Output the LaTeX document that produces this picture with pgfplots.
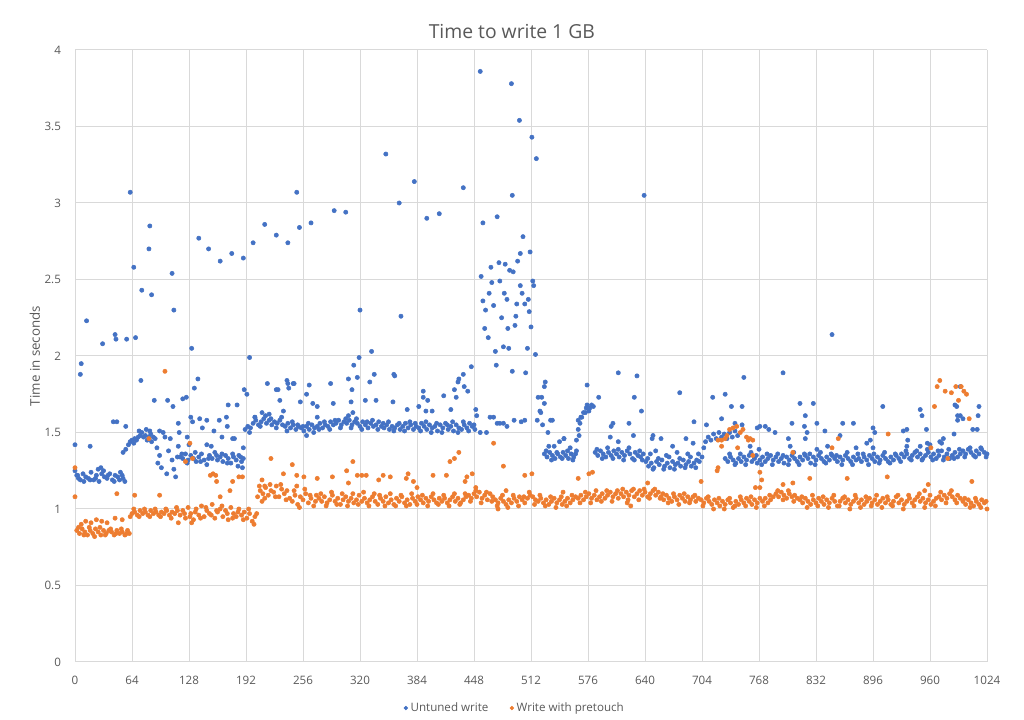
\documentclass[border=0pt]{standalone}
\usepackage{fontspec}
\setmainfont{Open Sans}
\usepackage{pgfplots}
\pgfplotsset{compat=1.18}
\definecolor{serA}{HTML}{4472C4}
\definecolor{serB}{HTML}{ED7D31}
\definecolor{gridc}{HTML}{D9D9D9}
\definecolor{txt}{HTML}{595959}
\begin{document}
\begin{tikzpicture}
\begin{axis}[
  at={(0pt,0pt)}, anchor=south west,
  scale only axis, width=684pt, height=459pt,
  xmin=0, xmax=1024, ymin=0, ymax=4,
  xtick={0,64,...,1024}, ytick={0,0.5,...,4},
  grid=major, major grid style={draw=gridc, line width=0.75pt},
  axis line style={draw=none}, tick style={draw=none},
  /pgf/number format/assume math mode=true,
  /pgf/number format/1000 sep={},
  ticklabel style={font=\fontsize{8.7}{10}\selectfont, text=txt},
  xticklabel style={anchor=center, yshift=-13.5pt},
  yticklabel style={anchor=east, xshift=-7pt},
  title={Time to write 1 GB},
  title style={at={(0.479,1)}, anchor=center, yshift=7.5pt, font=\fontsize{14.5}{17}\selectfont, text=txt},
  ylabel={Time in seconds},
  ylabel style={at={(axis description cs:-0.044,0.5)}, anchor=center, font=\fontsize{10}{12}\selectfont, text=txt},
  legend style={at={(0.4825,-0.0752)}, anchor=center, draw=none, fill=none, legend columns=2,
    font=\fontsize{8.7}{10}\selectfont, text=txt, /tikz/every even column/.append style={column sep=14pt}},
  legend cell align=left,
]
\addplot[only marks, mark=*, mark size=1.6pt, color=serA,
  legend image code/.code={\fill[serA] (0.08cm,0cm) circle (1.4pt);}]
coordinates {
(0,1.25)(2,1.22)(3,1.22)(6,1.19)(9,1.23)(12,1.21)(15,1.20)(18,1.24)(21,1.19)(24,1.22)(27,1.18)(30,1.23)(33,1.21)(36,1.20)(39,1.23)(42,1.19)(45,1.22)(48,1.21)(51,1.24)(54,1.20)
(4,1.20)(10,1.18)(17,1.19)(23,1.20)(26,1.26)(29,1.27)(32,1.25)(37,1.22)(44,1.18)(50,1.19)(53,1.22)(56,1.18)
(54,1.37)(57,1.39)(60,1.42)(62,1.44)(64,1.45)(66,1.43)(67,1.46)(69,1.45)(71,1.47)(72,1.51)(73,1.48)(75,1.50)(77,1.47)(79,1.48)(80,1.52)(81,1.45)(83,1.47)(84,1.51)(85,1.49)(86,1.44)(88,1.47)(90,1.46)
(92,1.40)(93,1.30)(95,1.35)(95,1.51)(97,1.27)(99,1.50)(101,1.47)(103,1.23)(105,1.38)(107,1.46)(109,1.32)(111,1.26)(113,1.21)(115,1.34)(116,1.41)(117,1.50)(116,1.56)
(118,1.34)(121,1.33)(124,1.36)(127,1.32)(130,1.35)(133,1.33)(136,1.31)(139,1.34)(142,1.36)(145,1.32)(148,1.29)(151,1.35)(154,1.33)(157,1.37)(160,1.32)(163,1.34)(166,1.31)(169,1.35)(172,1.33)(175,1.30)(178,1.34)(181,1.32)(184,1.35)(187,1.31)(189,1.33)
(120,1.36)(126,1.30)(135,1.37)(141,1.31)(150,1.33)(159,1.35)(165,1.36)(171,1.30)(177,1.36)(183,1.28)(186,1.34)(188,1.27)
(47,1.57)(43,1.57)(57,1.54)(0,1.42)(17,1.41)(74,1.84)(89,1.71)(104,1.71)(110,1.67)(121,1.72)(125,1.73)(134,1.79)(138,1.85)(130,1.60)(132,1.57)(140,1.59)(148,1.58)(143,1.53)(148,1.42)(153,1.41)(156,1.51)(162,1.58)(170,1.60)(165,1.47)(171,1.54)(172,1.68)(177,1.46)(182,1.68)(126,1.47)(128,1.42)(179,1.46)(189,1.40)
(191,1.52)(194,1.54)(197,1.53)(200,1.56)(203,1.58)(206,1.55)(209,1.57)(212,1.59)(215,1.56)(218,1.58)(221,1.55)(224,1.57)(227,1.56)(230,1.58)(233,1.55)(236,1.54)(239,1.56)(242,1.53)(245,1.55)(248,1.52)(251,1.54)(254,1.53)(257,1.51)(260,1.54)(263,1.52)(266,1.55)(269,1.53)(272,1.54)(275,1.56)(278,1.53)(281,1.55)(284,1.54)(287,1.57)(290,1.55)(293,1.56)(296,1.58)(299,1.55)(302,1.57)(305,1.56)(308,1.58)(311,1.55)(314,1.57)(317,1.56)(320,1.54)(323,1.57)(326,1.55)(329,1.53)(332,1.56)(335,1.54)(338,1.55)(341,1.57)(344,1.54)(347,1.53)(350,1.55)(353,1.52)(356,1.54)(359,1.53)(362,1.55)(365,1.52)(368,1.54)(371,1.56)(374,1.53)(377,1.55)(380,1.52)(383,1.54)(386,1.53)(389,1.56)(392,1.54)(395,1.52)(398,1.55)(401,1.53)(404,1.54)(407,1.51)(410,1.55)(413,1.53)(416,1.56)(419,1.52)(422,1.54)(425,1.51)(428,1.55)(431,1.53)(434,1.52)(437,1.55)(440,1.53)(443,1.56)(446,1.54)(449,1.52)
(196,1.50)(202,1.60)(208,1.54)(214,1.61)(220,1.59)(226,1.53)(232,1.60)(238,1.51)(244,1.57)(250,1.55)(256,1.54)(262,1.56)(268,1.50)(274,1.52)(280,1.57)(286,1.52)(292,1.58)(298,1.53)(304,1.59)(310,1.53)(316,1.59)(322,1.52)(328,1.57)(334,1.58)(340,1.52)(346,1.56)(352,1.57)(358,1.51)(364,1.56)(370,1.51)(376,1.57)(382,1.56)(388,1.51)(394,1.57)(400,1.50)(406,1.56)(412,1.50)(418,1.55)(424,1.57)(430,1.50)(436,1.57)(442,1.51)(448,1.55)
(190,1.78)(193,1.75)(226,1.78)(228,1.78)(230,1.71)(239,1.82)(240,1.79)(245,1.82)(253,1.70)(260,1.75)(267,1.69)(272,1.67)(290,1.69)(310,1.70)(311,1.78)(317,1.86)(326,1.71)(331,1.83)(338,1.71)(202,1.60)(210,1.63)(218,1.62)(234,1.64)(272,1.60)(307,1.61)(312,1.63)(260,1.48)
(216,1.82)(238,1.84)(246,1.82)(263,1.81)(287,1.82)(307,1.85)(313,1.94)(319,1.99)(333,2.03)(336,1.88)(359,1.87)
(358,1.88)(357,1.70)(373,1.65)(386,1.67)(391,1.77)(391,1.73)(394,1.64)(401,1.64)(396,1.71)(414,1.74)(422,1.65)(426,1.78)(428,1.73)(430,1.83)(431,1.85)(437,1.80)(441,1.77)
(62,3.07)(84,2.85)(83,2.70)(66,2.58)(109,2.54)(75,2.43)(86,2.40)(111,2.30)(13,2.23)(45,2.14)(46,2.11)(31,2.08)(58,2.11)(68,2.12)(131,2.05)(196,1.99)(7,1.95)(6,1.88)(139,2.77)(150,2.70)(163,2.62)(176,2.67)(189,2.64)(200,2.74)(213,2.86)(226,2.79)(239,2.74)(249,3.07)(252,2.84)(265,2.87)(291,2.95)(304,2.94)(349,3.32)(364,3.00)(381,3.14)(395,2.90)(409,2.93)(320,2.30)(366,2.26)
(455,3.86)(490,3.78)(499,3.54)(513,3.43)(518,3.29)(436,3.10)(491,3.05)(458,2.87)(474,2.91)(503,2.78)(500,2.67)(511,2.68)(497,2.62)(467,2.58)(476,2.61)(483,2.60)(488,2.56)(492,2.55)(456,2.52)(468,2.48)(477,2.49)(514,2.49)(515,2.46)(500,2.46)(465,2.41)(482,2.41)(502,2.41)(458,2.36)(485,2.37)(496,2.34)(505,2.34)(509,2.37)(461,2.30)(470,2.33)(510,2.29)(479,2.25)(495,2.26)(460,2.18)(464,2.12)(486,2.18)(494,2.20)(512,2.19)(472,2.03)(481,2.06)(487,2.05)(508,2.05)(517,2.01)(445,1.93)(436,1.88)(473,1.94)(491,1.90)(506,1.89)
(527,1.80)(528,1.83)(520,1.73)(524,1.73)(522,1.64)(523,1.63)(527,1.69)(534,1.58)(532,1.41)(531,1.50)
(455,1.50)(462,1.50)(466,1.60)(470,1.60)(474,1.56)(477,1.56)(481,1.56)(485,1.54)(493,1.58)(501,1.57)(505,1.58)(519,1.58)(525,1.55)(451,1.61)(450,1.65)
(527,1.36)(530,1.34)(533,1.37)(536,1.35)(539,1.33)(542,1.36)(545,1.34)(548,1.37)(551,1.35)(554,1.33)(557,1.36)(560,1.34)(563,1.38)(529,1.38)(535,1.32)(541,1.37)(547,1.33)(553,1.38)(559,1.32)(562,1.36)(538,1.41)(544,1.44)(556,1.40)(536,1.58)(549,1.46)(563,1.45)
(565,1.52)(565,1.58)(567,1.56)(568,1.60)(569,1.60)(571,1.63)(573,1.63)(574,1.66)(575,1.68)(577,1.64)(578,1.66)(580,1.68)(582,1.67)(566,1.48)
(584,1.37)(587,1.35)(590,1.38)(593,1.36)(596,1.34)(599,1.37)(602,1.35)(605,1.38)(608,1.36)(611,1.34)(614,1.37)(617,1.35)(620,1.38)(623,1.36)(626,1.33)(629,1.37)(632,1.35)(635,1.34)(638,1.36)(586,1.39)(592,1.33)(598,1.40)(604,1.33)(610,1.39)(616,1.32)(622,1.40)(628,1.32)(634,1.38)(637,1.32)
(641,1.31)(644,1.28)(647,1.30)(650,1.27)(653,1.31)(656,1.29)(659,1.32)(662,1.28)(665,1.30)(668,1.27)(671,1.31)(674,1.29)(677,1.30)(680,1.28)(683,1.32)(686,1.29)(689,1.31)(692,1.28)(695,1.30)(698,1.32)(701,1.31)(704,1.34)(643,1.33)(649,1.26)(655,1.33)(661,1.26)(667,1.34)(673,1.26)(679,1.33)(685,1.27)(691,1.34)(697,1.27)(646,1.36)(652,1.38)(664,1.35)(676,1.37)(688,1.36)(700,1.36)
(639,3.05)(850,2.14)
(610,1.89)(631,1.87)(575,1.81)(588,1.73)(628,1.73)(636,1.64)(679,1.76)(716,1.73)(695,1.57)(709,1.55)(549,1.46)
(601,1.47)(602,1.54)(604,1.56)(610,1.44)(622,1.56)(627,1.48)(648,1.46)(649,1.48)(658,1.46)(686,1.46)(694,1.43)(671,1.41)
(706,1.40)(708,1.44)(711,1.47)(714,1.45)(717,1.49)(720,1.46)(723,1.50)(726,1.47)(729,1.49)(732,1.46)(735,1.50)(738,1.47)(741,1.51)(744,1.48)
(730,1.33)(733,1.31)(736,1.34)(739,1.32)(742,1.30)(745,1.33)(748,1.31)(751,1.34)(754,1.32)(757,1.35)(760,1.31)(763,1.33)(766,1.30)(769,1.32)(772,1.34)(775,1.31)(778,1.33)(781,1.35)(784,1.32)(787,1.34)(790,1.31)(793,1.33)(796,1.30)(799,1.34)(802,1.32)(805,1.35)(808,1.33)(811,1.31)(814,1.34)(817,1.32)(820,1.35)(823,1.33)(826,1.30)(829,1.34)(832,1.32)(835,1.35)(838,1.33)(841,1.31)(844,1.34)(847,1.32)(850,1.35)(853,1.33)(856,1.31)(859,1.34)(862,1.32)(865,1.35)(868,1.33)(871,1.31)(874,1.34)(877,1.32)(880,1.33)(883,1.31)(886,1.34)(889,1.32)(892,1.35)(895,1.33)(898,1.31)
(735,1.36)(741,1.29)(747,1.36)(753,1.29)(759,1.37)(765,1.35)(771,1.29)(777,1.36)(783,1.29)(789,1.36)(795,1.35)(801,1.29)(807,1.37)(813,1.29)(819,1.36)(825,1.36)(831,1.29)(837,1.37)(843,1.30)(849,1.36)(855,1.35)(861,1.29)(867,1.37)(873,1.29)(879,1.36)(885,1.36)(891,1.29)(897,1.36)
(730,1.75)(737,1.67)(726,1.59)(749,1.67)(751,1.86)(741,1.56)(749,1.55)(766,1.53)(769,1.54)(775,1.54)(779,1.52)(786,1.50)(758,1.41)(768,1.39)(795,1.89)(801,1.46)(803,1.41)(805,1.56)(814,1.69)(820,1.61)(819,1.54)(822,1.50)(820,1.46)(829,1.69)(833,1.56)(842,1.51)(833,1.39)(845,1.41)(859,1.48)(862,1.56)(874,1.56)(877,1.40)(889,1.43)(893,1.45)(896,1.53)
(901,1.34)(904,1.32)(907,1.35)(910,1.33)(913,1.31)(916,1.34)(919,1.32)(922,1.35)(925,1.33)(928,1.36)(931,1.34)(934,1.36)(937,1.33)(940,1.35)(943,1.37)(946,1.34)(949,1.36)(952,1.33)(955,1.35)(958,1.37)(961,1.34)(964,1.36)(967,1.33)(970,1.35)(973,1.38)(976,1.34)(979,1.36)(982,1.33)(985,1.35)(988,1.37)(991,1.34)(994,1.36)(997,1.38)(1000,1.36)(1003,1.39)(1006,1.37)(1009,1.35)(1012,1.38)(1015,1.36)(1018,1.39)(1021,1.37)(1024,1.36)
(903,1.30)(909,1.37)(915,1.30)(921,1.36)(927,1.31)(933,1.38)(939,1.32)(945,1.38)(951,1.32)(957,1.39)(963,1.32)(969,1.38)(975,1.32)(981,1.39)(987,1.33)(993,1.39)(999,1.34)(1005,1.40)(1011,1.34)(1017,1.40)(1023,1.34)
(898,1.50)(896,1.40)(907,1.67)(930,1.51)(934,1.52)(935,1.45)(934,1.41)(949,1.65)(951,1.61)(956,1.52)(949,1.41)(957,1.43)(960,1.42)(971,1.44)(973,1.43)(975,1.46)(987,1.49)(988,1.68)(990,1.67)(991,1.61)(994,1.61)(991,1.58)(997,1.59)(994,1.80)(1008,1.52)(1013,1.52)(1015,1.67)(1014,1.61)
};
\addlegendentry{Untuned write}
\addplot[only marks, mark=*, mark size=1.6pt, color=serB,
  legend image code/.code={\fill[serB] (0.08cm,0cm) circle (1.4pt);}]
coordinates {
(2,0.86)(5,0.84)(8,0.87)(11,0.85)(14,0.83)(17,0.86)(20,0.84)(23,0.87)(26,0.85)(29,0.83)(32,0.86)(35,0.84)(38,0.86)(41,0.85)(44,0.83)(47,0.86)(50,0.84)(53,0.85)(56,0.83)(59,0.86)(61,0.84)
(4,0.88)(10,0.83)(16,0.88)(22,0.82)(28,0.88)(34,0.83)(40,0.87)(46,0.84)(52,0.87)(58,0.84)(7,0.90)(12,0.92)(18,0.91)(24,0.93)(30,0.92)(36,0.91)(45,0.94)(53,0.93)
(62,0.95)(64,0.97)(67,0.98)(70,0.96)(73,0.99)(76,0.97)(79,0.98)(82,0.96)(85,0.99)(88,0.97)(91,0.98)(94,0.96)(97,0.98)(100,0.97)(103,0.99)(106,0.96)(109,0.98)(112,0.97)(115,0.99)(118,0.96)
(66,1.00)(72,0.95)(78,1.00)(84,0.95)(90,1.00)(96,0.95)(102,1.00)(108,0.94)(114,1.01)
(121,0.99)(124,0.94)(127,1.01)(130,0.97)(133,0.93)(136,1.00)(139,0.96)(142,1.02)(145,0.95)(148,0.99)(151,0.97)(154,1.03)(157,0.94)(160,0.98)(163,1.00)(166,0.95)(169,0.99)(172,0.93)(175,1.01)(178,0.97)(181,0.95)(184,1.00)(187,0.96)(190,0.98)(193,0.94)(196,0.97)(199,0.92)(202,0.95)(204,0.97)
(123,0.97)(129,0.95)(135,0.98)(141,0.94)(147,1.01)(153,0.96)(159,0.99)(165,1.02)(171,0.97)(177,0.94)(183,0.98)(189,0.93)(195,1.00)(201,0.90)
(205,1.08)(208,1.12)(211,1.10)(214,1.14)(217,1.09)(220,1.12)(223,1.11)(226,1.15)(229,1.08)(232,1.13)(235,1.10)(238,1.12)(241,1.07)(207,1.15)(213,1.07)(219,1.16)(225,1.08)(231,1.16)(237,1.06)(210,1.05)
(244,1.05)(247,1.09)(250,1.03)(253,1.08)(256,1.06)(259,1.10)(262,1.04)(265,1.07)(268,1.02)(271,1.09)(246,1.12)(252,1.01)(258,1.13)(264,1.09)(270,1.05)(249,1.15)
(274,1.07)(277,1.05)(280,1.08)(283,1.04)(286,1.06)(289,1.09)(292,1.05)(295,1.07)(298,1.03)(301,1.06)(304,1.08)(307,1.05)(310,1.07)(313,1.04)(316,1.06)(319,1.09)(322,1.05)(325,1.07)(328,1.04)(331,1.06)(334,1.08)(337,1.05)(340,1.03)(343,1.07)(346,1.05)(349,1.08)(352,1.04)(355,1.06)(358,1.03)(361,1.07)(364,1.05)(367,1.08)(370,1.04)(373,1.06)(376,1.03)(379,1.07)(382,1.05)(385,1.08)(388,1.06)(391,1.04)(394,1.07)(397,1.05)(400,1.08)(403,1.06)(406,1.04)(409,1.07)(412,1.05)(415,1.07)(418,1.04)(421,1.06)(424,1.08)(427,1.05)(430,1.07)(433,1.04)(436,1.06)(439,1.08)
(276,1.10)(282,1.02)(288,1.11)(294,1.03)(300,1.10)(306,1.02)(312,1.10)(318,1.03)(324,1.11)(330,1.02)(336,1.10)(342,1.09)(348,1.02)(354,1.10)(360,1.02)(366,1.09)(372,1.02)(378,1.10)(384,1.03)(390,1.09)(396,1.02)(402,1.10)(408,1.03)(414,1.09)(420,1.02)(426,1.10)(432,1.03)(438,1.10)
(442,1.09)(445,1.07)(448,1.10)(451,1.08)(454,1.11)(457,1.07)(460,1.09)(463,1.06)(466,1.10)(469,1.08)(444,1.05)(450,1.12)(456,1.04)(462,1.11)(468,1.05)
(472,1.06)(475,1.04)(478,1.07)(481,1.05)(484,1.03)(487,1.06)(490,1.04)(493,1.07)(496,1.05)(499,1.08)(502,1.06)(505,1.04)(508,1.07)(511,1.09)(514,1.08)(517,1.06)(520,1.05)(523,1.07)(526,1.04)(529,1.06)(532,1.03)(535,1.05)(538,1.07)(541,1.04)(544,1.06)(547,1.03)(550,1.05)(553,1.07)(556,1.04)(559,1.06)(562,1.08)
(474,1.02)(480,1.09)(486,1.01)(492,1.09)(498,1.02)(504,1.08)(510,1.11)(516,1.03)(522,1.09)(528,1.02)(534,1.08)(540,1.01)(546,1.08)(552,1.02)(558,1.09)
(565,1.07)(568,1.09)(571,1.06)(574,1.08)(577,1.10)(580,1.07)(583,1.09)(586,1.06)(589,1.08)(592,1.10)(595,1.07)(598,1.09)(601,1.11)(604,1.08)(607,1.10)(610,1.07)(567,1.04)(573,1.11)(579,1.04)(585,1.12)(591,1.05)(597,1.12)(603,1.05)(609,1.12)
(613,1.10)(616,1.08)(619,1.11)(622,1.09)(625,1.12)(628,1.08)(631,1.10)(634,1.12)(637,1.09)(640,1.11)(643,1.08)(646,1.10)(649,1.12)(652,1.09)(655,1.11)(615,1.13)(621,1.06)(627,1.13)(633,1.06)(639,1.13)(645,1.07)(651,1.13)(657,1.07)(624,1.02)(620,1.04)
(658,1.08)(661,1.06)(664,1.09)(667,1.07)(670,1.05)(673,1.08)(676,1.06)(679,1.09)(682,1.07)(685,1.05)(688,1.08)(691,1.06)(694,1.08)(697,1.05)(700,1.07)(660,1.10)(666,1.04)(672,1.10)(678,1.03)(684,1.10)(690,1.04)(696,1.09)
(703,1.06)(706,1.04)(709,1.07)(712,1.05)(715,1.03)(718,1.06)(721,1.04)(724,1.02)(727,1.05)(730,1.03)(733,1.06)(736,1.04)(739,1.01)(742,1.05)(745,1.03)(748,1.06)(751,1.04)(754,1.07)(757,1.05)(760,1.03)(763,1.06)(766,1.04)(769,1.07)
(705,1.02)(711,1.08)(717,1.00)(723,1.07)(729,1.00)(735,1.07)(741,1.02)(747,1.08)(753,1.02)(759,1.08)(765,1.01)
(772,1.05)(775,1.07)(778,1.04)(781,1.06)(784,1.08)(774,1.02)(780,1.09)
(787,1.10)(790,1.08)(793,1.11)(796,1.09)(799,1.07)(802,1.10)(805,1.08)(808,1.09)(811,1.07)(789,1.12)(795,1.06)(801,1.12)(807,1.05)
(814,1.06)(817,1.04)(820,1.07)(823,1.05)(826,1.03)(829,1.06)(832,1.04)(835,1.07)(838,1.05)(841,1.03)(844,1.06)(847,1.04)(850,1.07)(853,1.05)(856,1.02)(859,1.05)(862,1.07)(865,1.04)(868,1.06)(871,1.03)(874,1.05)(877,1.07)(880,1.04)(883,1.06)(886,1.03)(889,1.05)(892,1.07)(895,1.04)(898,1.06)(901,1.03)(904,1.05)(907,1.07)(910,1.04)(913,1.06)(916,1.03)(919,1.05)(922,1.08)(925,1.04)(928,1.06)(931,1.03)(934,1.05)(937,1.07)(940,1.04)(943,1.06)(946,1.08)(949,1.05)(952,1.07)(955,1.04)(958,1.06)(961,1.03)(964,1.05)(967,1.07)
(816,1.08)(822,1.01)(828,1.09)(834,1.02)(840,1.08)(846,1.01)(852,1.09)(858,1.02)(864,1.08)(870,1.00)(876,1.09)(882,1.01)(888,1.08)(894,1.02)(900,1.09)(906,1.01)(912,1.08)(918,1.02)(924,1.09)(930,1.00)(936,1.09)(942,1.02)(948,1.10)(954,1.01)(960,1.09)(966,1.02)
(970,1.08)(973,1.06)(976,1.09)(979,1.07)(982,1.10)(985,1.08)(988,1.06)(991,1.09)(994,1.07)(972,1.11)(978,1.04)(984,1.12)(990,1.04)
(997,1.05)(1000,1.03)(1003,1.06)(1006,1.04)(1009,1.02)(1012,1.05)(1015,1.03)(1018,1.06)(1021,1.04)(1024,1.00)(999,1.07)(1005,1.01)(1011,1.07)(1017,1.01)(1023,1.05)
(0,1.27)(0,1.08)(101,1.90)(83,1.46)(47,1.10)(67,1.09)(95,1.09)(124,1.31)(132,1.33)(129,1.43)(152,1.22)(155,1.23)(158,1.22)(159,1.18)(177,1.18)(174,1.12)(163,1.08)(184,1.21)(116,0.91)(131,0.91)
(220,1.33)(244,1.29)(188,1.21)(210,1.19)(213,1.15)(234,1.23)(249,1.22)(257,1.21)(272,1.20)(289,1.21)(305,1.25)(312,1.31)(317,1.22)(322,1.22)(327,1.22)(346,1.22)(354,1.21)(341,1.19)(307,1.17)
(372,1.20)(374,1.23)(380,1.18)(384,1.14)(402,1.22)(417,1.22)(421,1.31)(426,1.33)(431,1.37)(440,1.21)(446,1.23)(438,1.18)(450,1.14)(470,1.43)(481,1.28)(484,1.12)(475,1.00)(505,1.22)(513,1.23)
(548,1.11)(565,1.20)(577,1.23)(581,1.24)(643,1.17)(703,1.18)(721,1.25)(722,1.27)
(722,1.45)(726,1.45)(730,1.46)(732,1.48)(735,1.52)(739,1.53)(743,1.54)(747,1.50)(750,1.52)(754,1.47)(756,1.45)(758,1.46)(761,1.45)(726,1.41)(744,1.40)(761,1.35)(769,1.24)(771,1.19)(764,1.14)(769,1.14)(795,1.16)(806,1.17)(806,1.37)(825,1.20)(857,1.46)(850,1.40)(867,1.20)
(968,1.80)(971,1.84)(977,1.77)(984,1.76)(989,1.80)(995,1.80)(998,1.77)(1001,1.75)(992,1.71)(965,1.67)(1004,1.59)(913,1.49)(961,1.40)(980,1.33)(912,1.21)(1007,1.18)(958,1.16)(954,1.12)
};
\addlegendentry{Write with pretouch}
\end{axis}
\pgfresetboundingbox
\path[use as bounding box] (-56.25pt,-43.5pt) rectangle (711.75pt,496.5pt);
\end{tikzpicture}
\end{document}
